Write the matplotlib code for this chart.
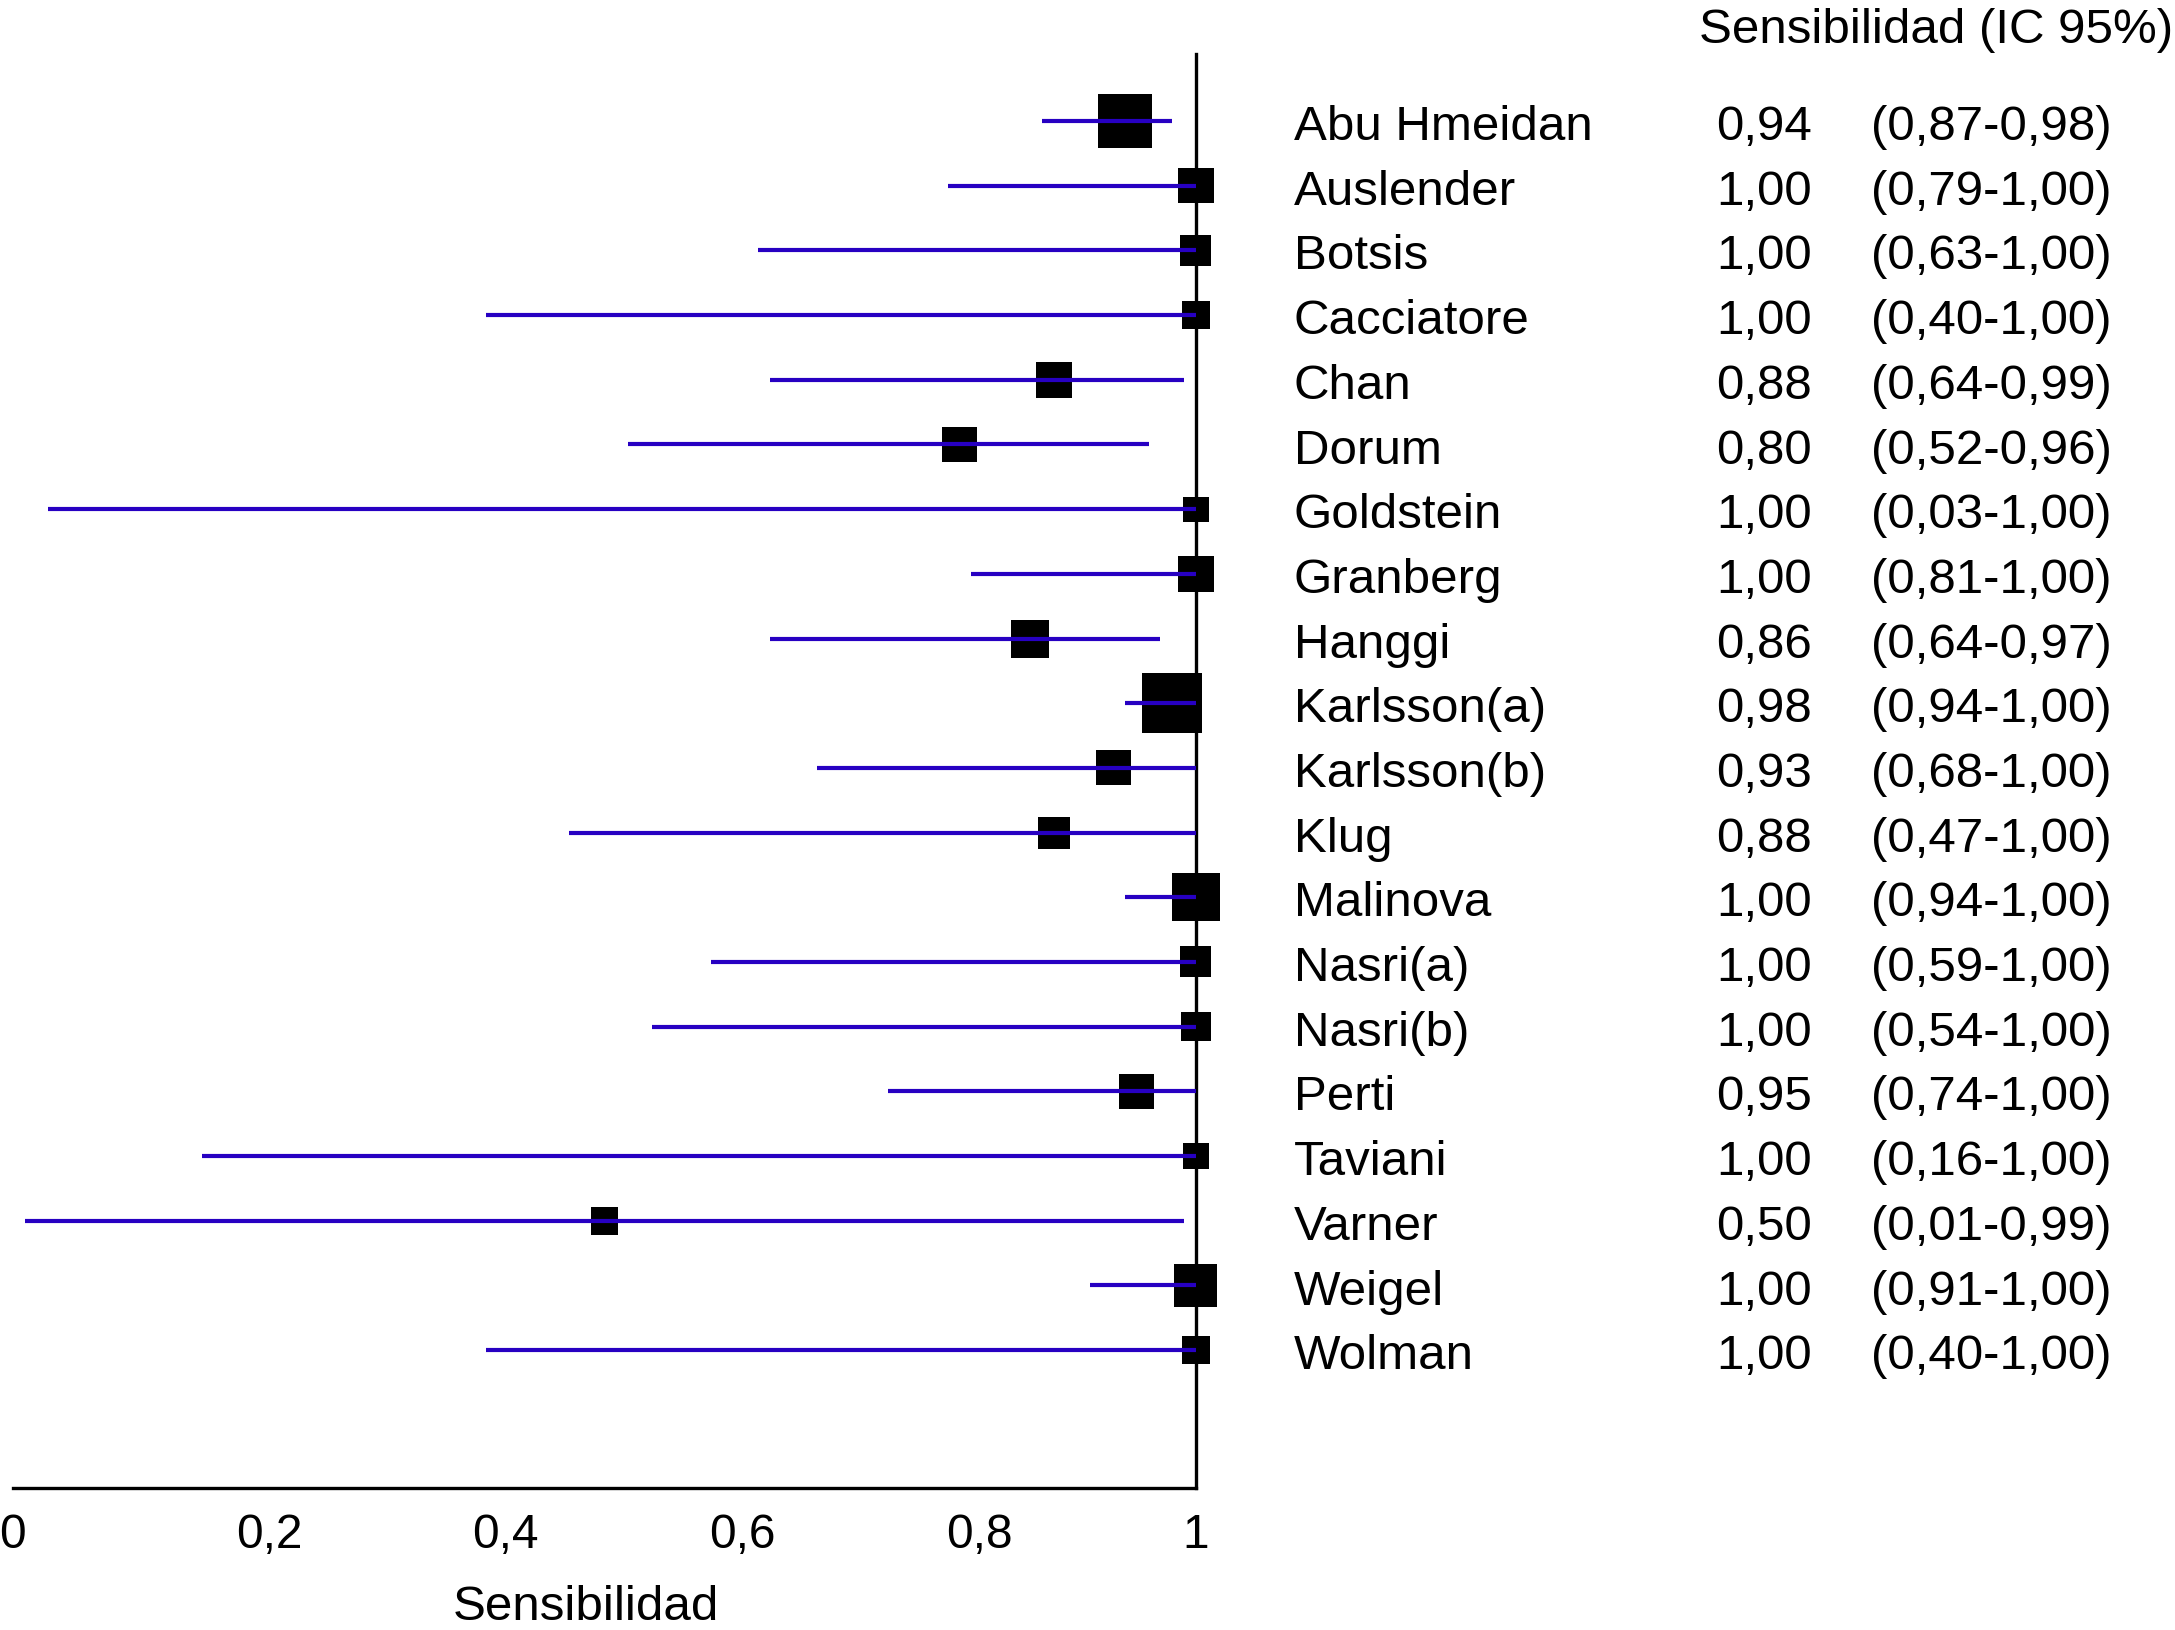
import matplotlib.pyplot as plt
import matplotlib.transforms as mtransforms

estudios = ["Abu Hmeidan", "Auslender", "Botsis", "Cacciatore", "Chan", "Dorum",
            "Goldstein", "Granberg", "Hanggi", "Karlsson(a)", "Karlsson(b)", "Klug",
            "Malinova", "Nasri(a)", "Nasri(b)", "Perti", "Taviani", "Varner",
            "Weigel", "Wolman"]
sens = [0.94, 1.00, 1.00, 1.00, 0.88, 0.80, 1.00, 1.00, 0.86, 0.98,
        0.93, 0.88, 1.00, 1.00, 1.00, 0.95, 1.00, 0.50, 1.00, 1.00]
ic_inf = [0.87, 0.79, 0.63, 0.40, 0.64, 0.52, 0.03, 0.81, 0.64, 0.94,
          0.68, 0.47, 0.94, 0.59, 0.54, 0.74, 0.16, 0.01, 0.91, 0.40]
ic_sup = [0.98, 1.00, 1.00, 1.00, 0.99, 0.96, 1.00, 1.00, 0.97, 1.00,
          1.00, 1.00, 1.00, 1.00, 1.00, 1.00, 1.00, 0.99, 1.00, 1.00]
# peso relativo de cada estudio (area del cuadrado)
peso = [29.2, 12.3, 9.6, 7.8, 13.0, 12.6, 6.3, 12.6, 14.4, 36.0,
        12.3, 10.2, 23.0, 9.6, 8.7, 12.3, 6.5, 7.8, 18.5, 7.8]

ticks = [0, 0.2, 0.4, 0.6, 0.8, 1]
tick_labels = ["0", "0,2", "0,4", "0,6", "0,8", "1"]

plt.rcParams['font.family'] = ['Liberation Sans', 'DejaVu Sans']

fig = plt.figure(figsize=(21.75, 16.31), dpi=100)
ax = fig.add_axes([0.00598, 0.0871, 0.5439, 0.8792])

filas = list(range(len(estudios)))
ax.hlines(filas, ic_inf, ic_sup, colors="#2700c2", lw=3.0, zorder=3, clip_on=False)
ax.scatter(sens, filas, s=[p * 51.84 for p in peso], marker="s", color="black",
           linewidths=0, zorder=2.6, clip_on=False)

ax.set_xlim(0, 1)
ax.set_ylim(21.13, -1.036)
ax.spines["top"].set_visible(False)
ax.spines["left"].set_visible(False)
ax.spines["right"].set_linewidth(2.4)
ax.spines["bottom"].set_linewidth(2.4)
ax.set_yticks([])
ax.set_xticks(ticks, tick_labels)
ax.tick_params(axis="x", length=0, pad=17, labelsize=34.5)

# etiquetas centradas en el primer digito
offset = mtransforms.ScaledTranslation(-0.136, 0, fig.dpi_scale_trans)
for lab in ax.get_xticklabels():
    lab.set_horizontalalignment("left")
    lab.set_transform(lab.get_transform() + offset)

ax.set_xlabel("Sensibilidad", fontsize=35.5)
ax.xaxis.set_label_coords(0.484, -0.0669)

tr = mtransforms.blended_transform_factory(fig.transFigure, ax.transData)
for i in filas:
    y = i + 0.28
    ax.text(0.5949, y, estudios[i], transform=tr, ha="left", va="baseline",
            fontsize=35.5, clip_on=False)
    ax.text(0.8331, y, f"{sens[i]:.2f}".replace(".", ","), transform=tr,
            ha="right", va="baseline", fontsize=35.5, clip_on=False)
    ax.text(0.8602, y, f"({ic_inf[i]:.2f}-{ic_sup[i]:.2f})".replace(".", ","),
            transform=tr, ha="left", va="baseline", fontsize=35.5, clip_on=False)

fig.text(0.9991, 0.97364, "Sensibilidad (IC 95%)", ha="right", va="baseline",
         fontsize=35.5)

fig.savefig("out.png", dpi=100)
